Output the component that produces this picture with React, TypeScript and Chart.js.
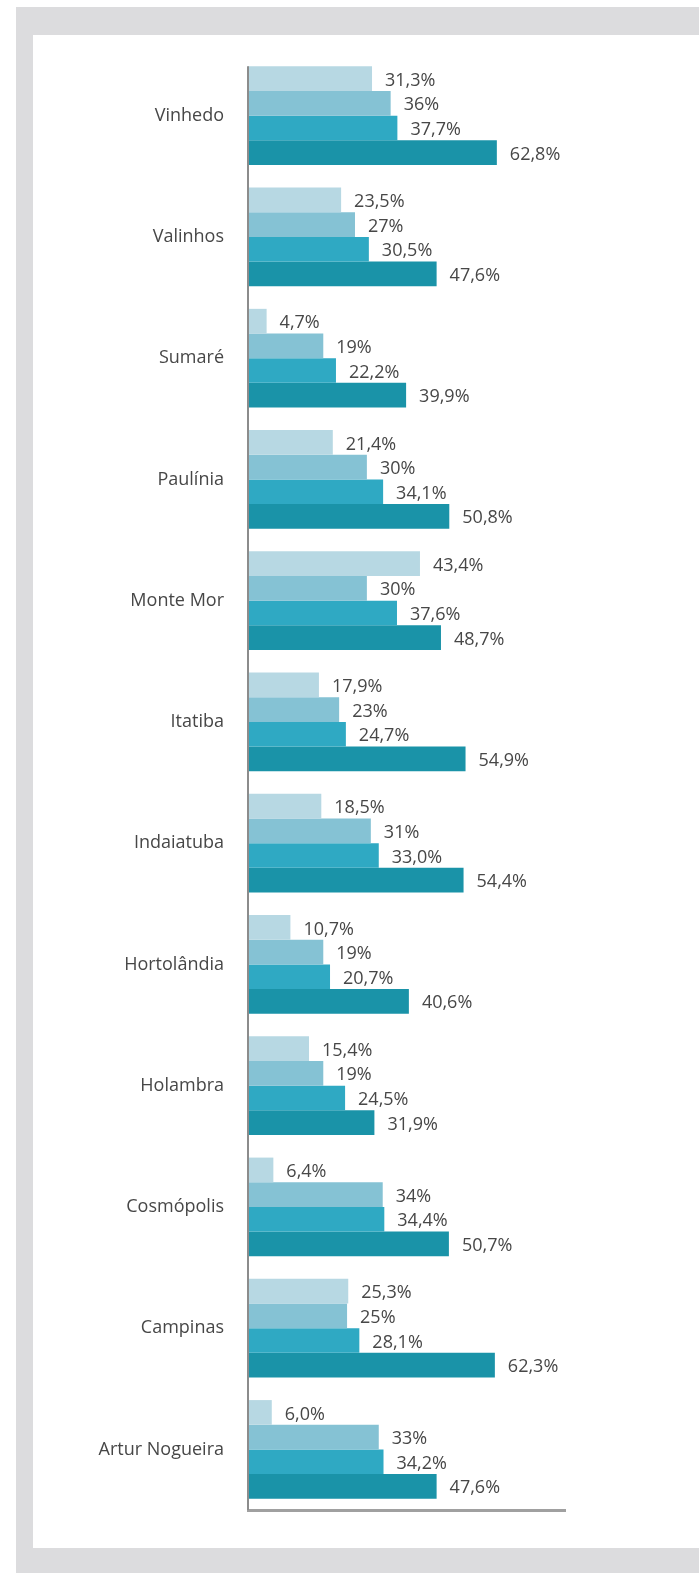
import React, { useEffect, useRef } from "react";
import { Chart, registerables } from "chart.js";

Chart.register(...registerables);

const categories = [
  "Vinhedo",
  "Valinhos",
  "Sumaré",
  "Paulínia",
  "Monte Mor",
  "Itatiba",
  "Indaiatuba",
  "Hortolândia",
  "Holambra",
  "Cosmópolis",
  "Campinas",
  "Artur Nogueira",
];
const series1 = [31.3, 23.5, 4.7, 21.4, 43.4, 17.9, 18.5, 10.7, 15.4, 6.4, 25.3, 6.0];
const series2 = [36, 27, 19, 30, 30, 23, 31, 19, 19, 34, 25, 33];
const series3 = [37.7, 30.5, 22.2, 34.1, 37.6, 24.7, 33.0, 20.7, 24.5, 34.4, 28.1, 34.2];
const series4 = [62.8, 47.6, 39.9, 50.8, 48.7, 54.9, 54.4, 40.6, 31.9, 50.7, 62.3, 47.6];
const seriesDecimals = [1, 0, 1, 1];
const seriesColors = ["#b7d8e3", "#85c2d4", "#2fa9c3", "#1a93a8"];
const xMax = 80;

const FONT = "'Open Sans', 'DejaVu Sans', sans-serif";

const valueLabels = {
  id: "valueLabels",
  afterDatasetsDraw(chart: any) {
    const ctx = chart.ctx;
    ctx.save();
    ctx.font = `18px ${FONT}`;
    ctx.fillStyle = "#474747";
    ctx.textAlign = "left";
    ctx.textBaseline = "middle";
    chart.data.datasets.forEach((ds: any, i: number) => {
      const meta = chart.getDatasetMeta(i);
      meta.data.forEach((bar: any, j: number) => {
        const v = ds.data[j] as number;
        const txt = v.toFixed(seriesDecimals[i]).replace(".", ",") + "%";
        ctx.fillText(txt, bar.x + 13, bar.y + 2);
      });
    });
    ctx.restore();
  },
};

const yAxisLine = {
  id: "yAxisLine",
  afterDatasetsDraw(chart: any) {
    const ctx = chart.ctx;
    const area = chart.chartArea;
    const first = chart.getDatasetMeta(0).data[0];
    if (!first) return;
    const top = first.y - first.height / 2;
    ctx.save();
    ctx.strokeStyle = "#8c8c8c";
    ctx.lineWidth = 2;
    ctx.beginPath();
    ctx.moveTo(area.left, top);
    ctx.lineTo(area.left, area.bottom);
    ctx.stroke();
    ctx.restore();
  },
};

export default function App() {
  const canvasRef = useRef<HTMLCanvasElement | null>(null);

  useEffect(() => {
    document.body.style.margin = "0";
    const canvas = canvasRef.current;
    if (!canvas) return;
    const allSeries = [series1, series2, series3, series4];
    const chart = new Chart(canvas, {
      type: "bar",
      data: {
        labels: categories,
        datasets: allSeries.map((d, i) => ({
          label: `S${i + 1}`,
          data: d,
          backgroundColor: seriesColors[i],
          borderWidth: 0,
          categoryPercentage: 0.813,
          barPercentage: 1.0,
        })),
      },
      options: {
        indexAxis: "y",
        animation: false,
        responsive: true,
        maintainAspectRatio: false,
        layout: { padding: { left: 0, top: 55, right: 134, bottom: 63 } },
        plugins: {
          legend: { display: false },
          tooltip: { enabled: false },
        },
        scales: {
          x: {
            type: "linear",
            min: 0,
            max: xMax,
            ticks: { display: false },
            grid: { display: false, drawTicks: false },
            border: { display: true, color: "#a0a0a0", width: 3 },
            afterFit: (scale: any) => {
              scale.height = 0;
            },
          },
          y: {
            type: "category",
            ticks: {
              color: "#474747",
              font: { family: FONT, size: 18 },
              padding: 24,
            },
            grid: { display: false, drawTicks: false },
            border: { display: false },
            afterFit: (scale: any) => {
              scale.width = 248;
            },
          },
        },
      },
      plugins: [valueLabels, yAxisLine],
    });
    return () => chart.destroy();
  }, []);

  return (
    <div
      style={{
        position: "absolute",
        left: 0,
        top: 0,
        width: 699,
        height: 1573,
        background: "#ffffff",
        overflow: "hidden",
      }}
    >
      <div
        style={{
          position: "absolute",
          left: 16,
          top: 7,
          right: 0,
          bottom: 0,
          background: "#dcdcde",
        }}
      />
      <div
        style={{
          position: "absolute",
          left: 33,
          top: 35,
          right: 0,
          height: 1513,
          background: "#ffffff",
        }}
      />
      <div style={{ position: "absolute", left: 0, top: 0, width: 699, height: 1573 }}>
        <canvas ref={canvasRef} />
      </div>
    </div>
  );
}
